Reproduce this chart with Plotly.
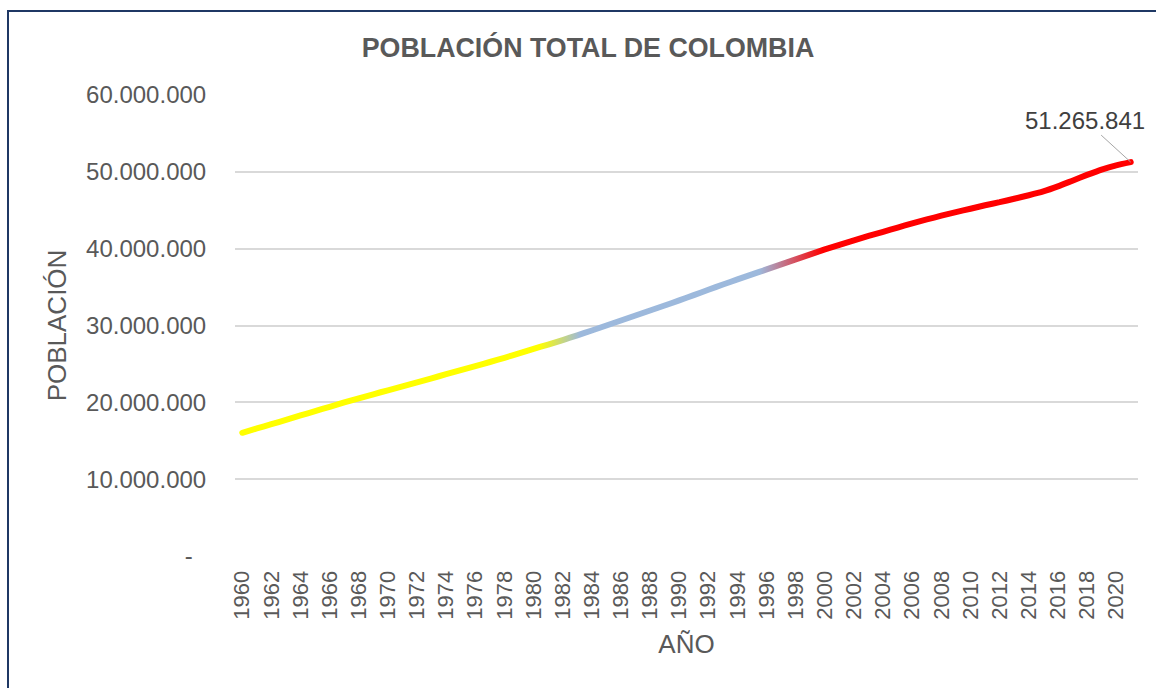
import plotly.graph_objects as go

# ---------------- data ----------------
years = list(range(1960, 2022))
population = [
    16040000, 16600000, 17160000, 17720000, 18290000, 18850000, 19420000, 19980000,
    20520000, 21050000, 21570000, 22090000, 22610000, 23130000, 23660000, 24200000,
    24720000, 25250000, 25800000, 26360000, 26950000, 27520000, 28110000, 28720000,
    29350000, 30000000, 30650000, 31300000, 31950000, 32600000, 33270000, 33950000,
    34650000, 35330000, 36000000, 36650000, 37300000, 37950000, 38600000, 39250000,
    39900000, 40500000, 41080000, 41650000, 42200000, 42750000, 43300000, 43800000,
    44300000, 44750000, 45200000, 45650000, 46050000, 46500000, 46950000, 47450000,
    48100000, 48850000, 49600000, 50300000, 50850000, 51265841,
]
y_ticks = [0, 10000000, 20000000, 30000000, 40000000, 50000000, 60000000]
x_ticks = list(range(1960, 2021, 2))

title_text = "POBLACIÓN TOTAL DE COLOMBIA"
x_title = "AÑO"
y_title = "POBLACIÓN"

# gradient stops along the line (fraction of its x extent, colour)
grad_stops = [(0.0, "#FFFF00"), (0.334, "#FFFF00"), (0.380, "#9DB9DC"),
              (0.582, "#9DB9DC"), (0.653, "#FF0000"), (1.0, "#FF0000")]


def fmt(v):
    return "-\u00a0\u00a0" if v == 0 else f"{v:,}".replace(",", ".")


txt_color = "#595959"
font_family = "Liberation Sans, Arial, sans-serif"

fig = go.Figure()
fig.add_trace(go.Scatter(
    x=years, y=population, mode="lines",
    line=dict(color="#FF0000", width=6, shape="spline", smoothing=0.6),
    hoverinfo="x+y", showlegend=False,
))

last_val = population[-1]
fig.add_annotation(
    x=years[-1], y=last_val, text=fmt(last_val),
    showarrow=True, arrowhead=0, arrowwidth=1, arrowcolor="#A6A6A6",
    ax=-46, ay=-42, standoff=0,
    font=dict(family=font_family, size=24, color="#404040"),
)

# chart border (dark blue frame)
L, R, T, B = 235, 18, 95, 132
W, H = 1156 - L - R, 688 - T - B
fig.add_shape(type="rect", xref="paper", yref="paper",
              x0=(8 - L) / W, x1=(1170 - L) / W,
              y0=(688 - B - 700) / H, y1=(688 - B - 11) / H,
              line=dict(color="#1F3864", width=2), fillcolor="rgba(0,0,0,0)", layer="below")

fig.update_layout(
    width=1156, height=688,
    margin=dict(l=L, r=R, t=T, b=B),
    paper_bgcolor="white", plot_bgcolor="white",
    font=dict(family=font_family, color=txt_color),
    title=dict(text=f"<b>{title_text}</b>", x=588 / 1156, xref="container", xanchor="center",
               y=1 - 48 / 688, yref="container", yanchor="middle",
               font=dict(size=26.8, color=txt_color, family=font_family)),
    xaxis=dict(
        range=[1959.5, 2021.5], tickvals=x_ticks, ticktext=[str(v) for v in x_ticks],
        tickangle=-90, showgrid=False, zeroline=False, showline=False,
        ticks="outside", ticklen=5, tickcolor="rgba(0,0,0,0)",
        tickfont=dict(size=22, color=txt_color),
        title=dict(text=x_title, font=dict(size=26, color=txt_color), standoff=16),
    ),
    yaxis=dict(
        range=[0, 60000000], tickvals=y_ticks, ticktext=[fmt(v) for v in y_ticks],
        showgrid=True, gridcolor="#D9D9D9", gridwidth=1.5, zeroline=False, showline=False,
        ticks="outside", ticklen=23, tickcolor="rgba(0,0,0,0)",
        tickfont=dict(size=24, color=txt_color),
        title=dict(text=y_title, font=dict(size=26, color=txt_color), standoff=11),
    ),
)

stops_js = ",".join(f"[{o},'{c}']" for o, c in grad_stops)
post_js = """
document.body.style.margin = '0';
var gd = document.getElementById('{plot_id}');
function applyGrad() {
  var ns = 'http://www.w3.org/2000/svg';
  var svg = gd.querySelector('svg.main-svg');
  if (!svg) return;
  if (!document.getElementById('popgrad')) {
    var defs = svg.querySelector('defs');
    if (!defs) { defs = document.createElementNS(ns, 'defs'); svg.insertBefore(defs, svg.firstChild); }
    var lg = document.createElementNS(ns, 'linearGradient');
    lg.setAttribute('id', 'popgrad');
    lg.setAttribute('x1', '0'); lg.setAttribute('y1', '0');
    lg.setAttribute('x2', '1'); lg.setAttribute('y2', '0');
    var stops = [STOPS];
    stops.forEach(function (s) {
      var st = document.createElementNS(ns, 'stop');
      st.setAttribute('offset', s[0]);
      st.setAttribute('stop-color', s[1]);
      lg.appendChild(st);
    });
    defs.appendChild(lg);
  }
  gd.querySelectorAll('.scatterlayer .trace path.js-line').forEach(function (p) {
    p.style.stroke = 'url(#popgrad)';
    p.style.strokeLinecap = 'round';
    p.style.strokeLinejoin = 'round';
  });
}
applyGrad();
gd.on('plotly_afterplot', applyGrad);
""".replace("STOPS", stops_js)

fig.write_html("out.html", post_script=post_js, config={"displayModeBar": False})
